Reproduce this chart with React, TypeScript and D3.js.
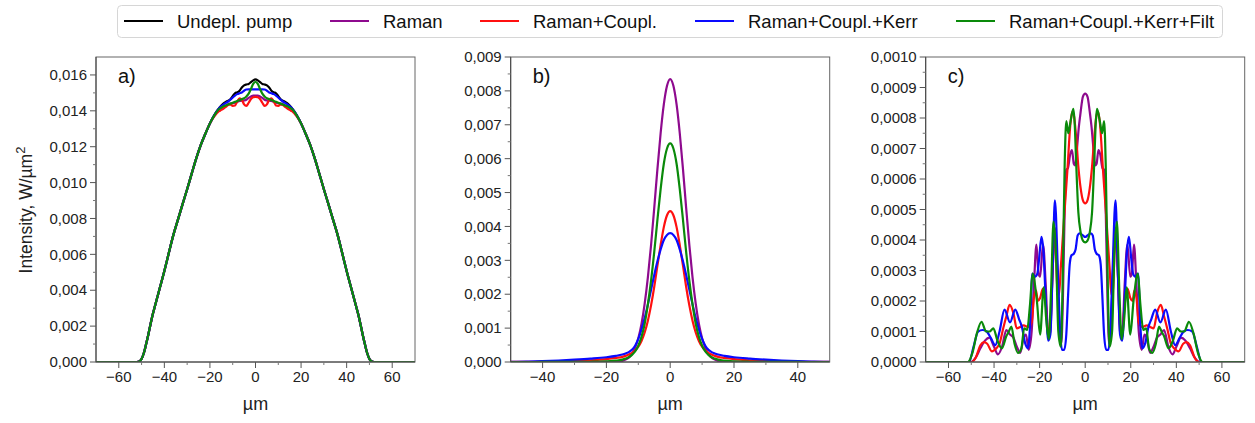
import React from 'react';
import * as d3 from 'd3';

// ---------- legend / series ----------
const seriesNames = ['Undepl. pump', 'Raman', 'Raman+Coupl.', 'Raman+Coupl.+Kerr', 'Raman+Coupl.+Kerr+Filt'];
const seriesColors = ['#000000', '#8e0a8e', '#ff1010', '#0a0aff', '#0a8a0a'];

// ---------- panel a) pump profile ----------
const xA = [-70, -52, -51, -50, -49, -48, -47, -46, -45, -44, -42, -40, -38, -36, -34, -32, -30, -28, -26, -24, -22, -20, -18,
  -16, -15, -14, -13, -12, -11, -10, -9, -8, -7, -6, -5, -4, -3, -2, -1, 0, 1, 2, 3, 4, 5, 6, 7, 8, 9, 10, 11, 12, 13, 14, 15, 16,
  18, 20, 22, 24, 26, 28, 30, 32, 34, 36, 38, 40, 42, 44, 45, 46, 47, 48, 49, 50, 51, 52, 70];

const aUndepl = [0, 0, 0.00003, 0.00017, 0.0005, 0.001, 0.00155, 0.00215, 0.0027, 0.00318, 0.00412, 0.00507, 0.0061, 0.0071, 0.00795, 0.0088, 0.00963, 0.0105, 0.01135, 0.0121, 0.01272, 0.0133, 0.01378,
  0.01415, 0.0143, 0.01442, 0.0145, 0.01456, 0.01465, 0.01482, 0.01498, 0.01503, 0.01512, 0.0153, 0.01542, 0.01547, 0.0155, 0.0156, 0.0157, 0.01575,
  0.0157, 0.0156, 0.0155, 0.01547, 0.01542, 0.0153, 0.01512, 0.01503, 0.01498, 0.01482, 0.01465, 0.01456, 0.0145, 0.01442, 0.0143, 0.01415,
  0.01378, 0.0133, 0.01272, 0.0121, 0.01135, 0.0105, 0.00963, 0.0088, 0.00795, 0.0071, 0.0061, 0.00507, 0.00412, 0.00318, 0.0027, 0.00215, 0.00155, 0.001, 0.0005, 0.00017, 0.00003, 0, 0];

const aRaman = [0, 0, 0.00003, 0.00017, 0.0005, 0.001, 0.00155, 0.00215, 0.0027, 0.00318, 0.00412, 0.00507, 0.0061, 0.0071, 0.00795, 0.0088, 0.00963, 0.0105, 0.01135, 0.0121, 0.01272, 0.0133, 0.01375,
  0.01408, 0.01418, 0.01425, 0.0143, 0.01436, 0.0144, 0.01442, 0.01445, 0.0145, 0.01455, 0.01456, 0.01458, 0.01462, 0.01472, 0.0148, 0.01485, 0.01485,
  0.01485, 0.0148, 0.01472, 0.01462, 0.01458, 0.01456, 0.01455, 0.0145, 0.01445, 0.01442, 0.0144, 0.01436, 0.0143, 0.01425, 0.01418, 0.01408,
  0.01375, 0.0133, 0.01272, 0.0121, 0.01135, 0.0105, 0.00963, 0.0088, 0.00795, 0.0071, 0.0061, 0.00507, 0.00412, 0.00318, 0.0027, 0.00215, 0.00155, 0.001, 0.0005, 0.00017, 0.00003, 0, 0];

const aCoupl = [0, 0, 0.00003, 0.00017, 0.0005, 0.001, 0.00155, 0.00215, 0.0027, 0.00318, 0.00412, 0.00507, 0.0061, 0.0071, 0.00795, 0.0088, 0.00963, 0.0105, 0.01135, 0.0121, 0.01272, 0.0133, 0.0137,
  0.01398, 0.01405, 0.01413, 0.01422, 0.01432, 0.01436, 0.01428, 0.0143, 0.01452, 0.0147, 0.01462, 0.01436, 0.01428, 0.01445, 0.01466, 0.01476, 0.01478,
  0.01476, 0.01466, 0.01445, 0.01428, 0.01436, 0.01462, 0.0147, 0.01452, 0.0143, 0.01428, 0.01436, 0.01432, 0.01422, 0.01413, 0.01405, 0.01398,
  0.0137, 0.0133, 0.01272, 0.0121, 0.01135, 0.0105, 0.00963, 0.0088, 0.00795, 0.0071, 0.0061, 0.00507, 0.00412, 0.00318, 0.0027, 0.00215, 0.00155, 0.001, 0.0005, 0.00017, 0.00003, 0, 0];

const aKerr = [0, 0, 0.00003, 0.00017, 0.0005, 0.001, 0.00155, 0.00215, 0.0027, 0.00318, 0.00412, 0.00507, 0.0061, 0.0071, 0.00795, 0.0088, 0.00963, 0.0105, 0.01135, 0.0121, 0.01272, 0.0133, 0.01378,
  0.01414, 0.01426, 0.01436, 0.01444, 0.01452, 0.01462, 0.01474, 0.01485, 0.01493, 0.01498, 0.01502, 0.01512, 0.01519, 0.0152, 0.0152, 0.0152, 0.0152,
  0.0152, 0.0152, 0.0152, 0.01519, 0.01512, 0.01502, 0.01498, 0.01493, 0.01485, 0.01474, 0.01462, 0.01452, 0.01444, 0.01436, 0.01426, 0.01414,
  0.01378, 0.0133, 0.01272, 0.0121, 0.01135, 0.0105, 0.00963, 0.0088, 0.00795, 0.0071, 0.0061, 0.00507, 0.00412, 0.00318, 0.0027, 0.00215, 0.00155, 0.001, 0.0005, 0.00017, 0.00003, 0, 0];

const aFilt = [0, 0, 0.00003, 0.00017, 0.0005, 0.001, 0.00155, 0.00215, 0.0027, 0.00318, 0.00412, 0.00507, 0.0061, 0.0071, 0.00795, 0.0088, 0.00963, 0.0105, 0.01135, 0.0121, 0.01272, 0.0133, 0.01376,
  0.0141, 0.01418, 0.01425, 0.0143, 0.01435, 0.0144, 0.01445, 0.0145, 0.01455, 0.0146, 0.01465, 0.0147, 0.0148, 0.01496, 0.01522, 0.0155, 0.01562,
  0.0155, 0.01522, 0.01496, 0.0148, 0.0147, 0.01465, 0.0146, 0.01455, 0.0145, 0.01445, 0.0144, 0.01435, 0.0143, 0.01425, 0.01418, 0.0141,
  0.01376, 0.0133, 0.01272, 0.0121, 0.01135, 0.0105, 0.00963, 0.0088, 0.00795, 0.0071, 0.0061, 0.00507, 0.00412, 0.00318, 0.0027, 0.00215, 0.00155, 0.001, 0.0005, 0.00017, 0.00003, 0, 0];

// ---------- panel b) Stokes, central component ----------
const xB = [-50, -45, -40, -35, -30, -25, -20, -17, -15, -14, -13, -12, -11, -10, -9, -8, -7, -6, -5, -4, -3, -2, -1, 0,
  1, 2, 3, 4, 5, 6, 7, 8, 9, 10, 11, 12, 13, 14, 15, 17, 20, 25, 30, 35, 40, 45, 50];

const bRaman = [0, 0, 0, 0, 0, 0.000001, 0.000004, 0.000012, 0.000035, 0.00007, 0.00013, 0.00024, 0.00042, 0.0007, 0.00112, 0.00172, 0.0025, 0.00345, 0.00455, 0.0057, 0.00675, 0.0076, 0.00815, 0.00835,
  0.00815, 0.0076, 0.00675, 0.0057, 0.00455, 0.00345, 0.0025, 0.00172, 0.00112, 0.0007, 0.00042, 0.00024, 0.00013, 0.00007, 0.000035, 0.000012, 0.000004, 0.000001, 0, 0, 0, 0, 0];

const bCoupl = [0.000002, 0.000005, 0.00001, 0.000018, 0.00003, 0.00005, 0.000085, 0.00012, 0.00015, 0.00018, 0.00022, 0.00027, 0.00034, 0.00045, 0.00062, 0.00087, 0.00122, 0.00167, 0.00222, 0.00285, 0.00345, 0.00398, 0.00433, 0.00445,
  0.00433, 0.00398, 0.00345, 0.00285, 0.00222, 0.00167, 0.00122, 0.00087, 0.00062, 0.00045, 0.00034, 0.00027, 0.00022, 0.00018, 0.00015, 0.00012, 0.000085, 0.00005, 0.00003, 0.000018, 0.00001, 0.000005, 0.000002];

const bKerr = [0.000005, 0.000012, 0.000025, 0.000045, 0.00007, 0.0001, 0.00014, 0.00018, 0.00022, 0.00025, 0.00029, 0.00036, 0.00048, 0.00068, 0.00096, 0.0013, 0.0017, 0.00213, 0.00257, 0.00297, 0.00332, 0.0036, 0.00375, 0.0038,
  0.00375, 0.0036, 0.00332, 0.00297, 0.00257, 0.00213, 0.0017, 0.0013, 0.00096, 0.00068, 0.00048, 0.00036, 0.00029, 0.00025, 0.00022, 0.00018, 0.00014, 0.0001, 0.00007, 0.000045, 0.000025, 0.000012, 0.000005];

const bFilt = [0, 0.0000005, 0.000001, 0.000002, 0.000004, 0.000008, 0.00002, 0.00004, 0.00007, 0.0001, 0.00014, 0.00021, 0.00031, 0.00048, 0.00074, 0.00113, 0.0017, 0.0024, 0.00325, 0.0042, 0.0051, 0.00585, 0.0063, 0.00645,
  0.0063, 0.00585, 0.0051, 0.0042, 0.00325, 0.0024, 0.0017, 0.00113, 0.00074, 0.00048, 0.00031, 0.00021, 0.00014, 0.0001, 0.00007, 0.00004, 0.00002, 0.000008, 0.000004, 0.000002, 0.000001, 0.0000005, 0];

// ---------- panel c) Stokes, higher components ([x, intensity]) ----------
const cRaman: [number, number][] = [
  [-70, 0], [-50, 0], [-48, 0.15e-4], [-46, 0.45e-4], [-44, 0.7e-4], [-42, 0.8e-4], [-40, 0.5e-4], [-38.3, 0.25e-4], [-36.5, 0.5e-4], [-34.6, 1.05e-4],
  [-33, 0.9e-4], [-31.5, 0.8e-4], [-30, 0.5e-4], [-28.5, 0.3e-4], [-27, 0.8e-4], [-26, 0.9e-4], [-24.8, 0.4e-4], [-23.5, 1.0e-4], [-22.5, 2.5e-4],
  [-21.4, 3.85e-4], [-20.5, 2.9e-4], [-19.8, 2.8e-4], [-18.5, 3.85e-4], [-17.3, 2.5e-4], [-16.2, 0.8e-4], [-15.3, 1.0e-4], [-14.3, 3.0e-4],
  [-13.3, 4.4e-4], [-12.2, 3.0e-4], [-11.2, 1.0e-4], [-10.5, 0.6e-4], [-9.8, 2.0e-4], [-9, 5.0e-4], [-8.3, 6.3e-4], [-7.6, 6.35e-4], [-6.6, 6.8e-4],
  [-5.8, 6.95e-4], [-5, 6.5e-4], [-4.4, 6.45e-4], [-3.6, 7.0e-4], [-2.8, 7.7e-4], [-2, 8.2e-4], [-1, 8.7e-4], [0, 8.8e-4],
  [1, 8.7e-4], [2, 8.2e-4], [2.8, 7.7e-4], [3.6, 7.0e-4], [4.4, 6.45e-4], [5, 6.5e-4], [5.8, 6.95e-4], [6.6, 6.8e-4], [7.6, 6.35e-4], [8.3, 6.3e-4],
  [9, 5.0e-4], [9.8, 2.0e-4], [10.5, 0.6e-4], [11.2, 1.0e-4], [12.2, 3.0e-4], [13.3, 4.4e-4], [14.3, 3.0e-4], [15.3, 1.0e-4], [16.2, 0.8e-4],
  [17.3, 2.5e-4], [18.5, 3.85e-4], [19.8, 2.8e-4], [20.5, 2.9e-4], [21.4, 3.85e-4], [22.5, 2.5e-4], [23.5, 1.0e-4], [24.8, 0.4e-4], [26, 0.9e-4],
  [27, 0.8e-4], [28.5, 0.3e-4], [30, 0.5e-4], [31.5, 0.8e-4], [33, 0.9e-4], [34.6, 1.05e-4], [36.5, 0.5e-4], [38.3, 0.25e-4], [40, 0.5e-4],
  [42, 0.8e-4], [44, 0.7e-4], [46, 0.45e-4], [48, 0.15e-4], [50, 0], [70, 0]];

const cCoupl: [number, number][] = [
  [-70, 0], [-50, 0], [-48, 0.15e-4], [-46, 0.55e-4], [-44.5, 0.65e-4], [-43, 0.6e-4], [-41, 0.35e-4], [-39, 0.45e-4], [-37.6, 0.6e-4], [-36, 1.1e-4],
  [-34.6, 1.5e-4], [-33.2, 1.87e-4], [-31.5, 1.6e-4], [-30, 1.1e-4], [-28.5, 1.15e-4], [-27, 1.2e-4], [-25, 1.15e-4], [-23.5, 1.3e-4], [-22.5, 2.1e-4],
  [-21.6, 2.35e-4], [-20.8, 2.0e-4], [-19.8, 2.1e-4], [-18.6, 2.4e-4], [-17.3, 1.9e-4], [-16.2, 1.0e-4], [-15.3, 1.2e-4], [-14.3, 3.0e-4],
  [-13.3, 4.3e-4], [-12.2, 2.4e-4], [-11.5, 2.2e-4], [-10.7, 3.1e-4], [-9.2, 4.8e-4], [-7.8, 6.3e-4], [-6.5, 7.8e-4], [-5.7, 8.2e-4], [-5, 8.1e-4],
  [-4, 7.4e-4], [-3, 6.4e-4], [-2, 5.7e-4], [-1, 5.3e-4], [0, 5.2e-4],
  [1, 5.3e-4], [2, 5.7e-4], [3, 6.4e-4], [4, 7.4e-4], [5, 8.1e-4], [5.7, 8.2e-4], [6.5, 7.8e-4], [7.8, 6.3e-4], [9.2, 4.8e-4], [10.7, 3.1e-4],
  [11.5, 2.2e-4], [12.2, 2.4e-4], [13.3, 4.3e-4], [14.3, 3.0e-4], [15.3, 1.2e-4], [16.2, 1.0e-4], [17.3, 1.9e-4], [18.6, 2.4e-4], [19.8, 2.1e-4],
  [20.8, 2.0e-4], [21.6, 2.35e-4], [22.5, 2.1e-4], [23.5, 1.3e-4], [25, 1.15e-4], [27, 1.2e-4], [28.5, 1.15e-4], [30, 1.1e-4], [31.5, 1.6e-4],
  [33.2, 1.87e-4], [34.6, 1.5e-4], [36, 1.1e-4], [37.6, 0.6e-4], [39, 0.45e-4], [41, 0.35e-4], [43, 0.6e-4], [44.5, 0.65e-4], [46, 0.55e-4],
  [48, 0.15e-4], [50, 0], [70, 0]];

const cKerr: [number, number][] = [
  [-70, 0], [-51, 0], [-49, 0.5e-4], [-47, 1.0e-4], [-45, 1.05e-4], [-43.2, 1.0e-4], [-41.5, 0.8e-4], [-39.5, 0.55e-4], [-37.6, 1.0e-4],
  [-35.4, 1.72e-4], [-33, 1.3e-4], [-30.7, 1.72e-4], [-29, 1.4e-4], [-27.8, 1.16e-4], [-26.3, 0.6e-4], [-25.1, 0.45e-4], [-24.2, 1.2e-4],
  [-23.2, 2.9e-4], [-22, 2.8e-4], [-21, 2.9e-4], [-20.2, 3.4e-4], [-19.2, 4.1e-4], [-18.3, 3.6e-4], [-17.3, 2.0e-4], [-16.2, 0.7e-4],
  [-15.3, 0.9e-4], [-14.3, 3.0e-4], [-13.3, 5.3e-4], [-12, 3.0e-4], [-11, 1.0e-4], [-10.2, 0.4e-4], [-9.2, 0.4e-4], [-8.3, 0.9e-4], [-7.5, 2.2e-4],
  [-6.8, 3.2e-4], [-6, 3.5e-4], [-5, 3.55e-4], [-4.2, 3.7e-4], [-3.3, 4.15e-4], [-2.5, 4.22e-4], [-1, 4.15e-4], [0, 4.1e-4],
  [1, 4.15e-4], [2.5, 4.22e-4], [3.3, 4.15e-4], [4.2, 3.7e-4], [5, 3.55e-4], [6, 3.5e-4], [6.8, 3.2e-4], [7.5, 2.2e-4], [8.3, 0.9e-4],
  [9.2, 0.4e-4], [10.2, 0.4e-4], [11, 1.0e-4], [12, 3.0e-4], [13.3, 5.3e-4], [14.3, 3.0e-4], [15.3, 0.9e-4], [16.2, 0.7e-4], [17.3, 2.0e-4],
  [18.3, 3.6e-4], [19.2, 4.1e-4], [20.2, 3.4e-4], [21, 2.9e-4], [22, 2.8e-4], [23.2, 2.9e-4], [24.2, 1.2e-4], [25.1, 0.45e-4], [26.3, 0.6e-4],
  [27.8, 1.16e-4], [29, 1.4e-4], [30.7, 1.72e-4], [33, 1.3e-4], [35.4, 1.72e-4], [37.6, 1.0e-4], [39.5, 0.55e-4], [41.5, 0.8e-4],
  [43.2, 1.0e-4], [45, 1.05e-4], [47, 1.0e-4], [49, 0.5e-4], [51, 0], [70, 0]];

const cFilt: [number, number][] = [
  [-70, 0], [-51.5, 0], [-49.5, 0.3e-4], [-47.5, 0.95e-4], [-45.5, 1.32e-4], [-43.5, 1.0e-4], [-42, 1.0e-4], [-40.3, 1.1e-4], [-38.5, 0.7e-4],
  [-36.6, 0.45e-4], [-34.6, 0.85e-4], [-33.5, 1.0e-4], [-32.4, 1.16e-4], [-31, 0.6e-4], [-29.5, 0.3e-4], [-28, 0.45e-4], [-26.8, 1.1e-4],
  [-25.5, 1.05e-4], [-24.2, 1.9e-4], [-23.1, 2.9e-4], [-21.2, 2.0e-4], [-19.8, 0.9e-4], [-18.2, 2.45e-4], [-17.1, 1.4e-4], [-16, 0.75e-4],
  [-15, 2.3e-4], [-13.9, 4.6e-4], [-12.8, 3.5e-4], [-11.8, 1.0e-4], [-10.7, 0.5e-4], [-9.8, 3.0e-4], [-9, 6.5e-4], [-8.3, 7.9e-4], [-7.4, 7.5e-4],
  [-6.4, 7.9e-4], [-5.2, 8.3e-4], [-4.6, 7.8e-4], [-4, 6.6e-4], [-3, 4.9e-4], [-2, 4.25e-4], [-1, 3.98e-4], [0, 3.92e-4],
  [1, 3.98e-4], [2, 4.25e-4], [3, 4.9e-4], [4, 6.6e-4], [4.6, 7.8e-4], [5.2, 8.3e-4], [6.4, 7.9e-4], [7.4, 7.5e-4], [8.3, 7.9e-4], [9, 6.5e-4],
  [9.8, 3.0e-4], [10.7, 0.5e-4], [11.8, 1.0e-4], [12.8, 3.5e-4], [13.9, 4.6e-4], [15, 2.3e-4], [16, 0.75e-4], [17.1, 1.4e-4], [18.2, 2.45e-4],
  [19.8, 0.9e-4], [21.2, 2.0e-4], [23.1, 2.9e-4], [24.2, 1.9e-4], [25.5, 1.05e-4], [26.8, 1.1e-4], [28, 0.45e-4], [29.5, 0.3e-4], [31, 0.6e-4],
  [32.4, 1.16e-4], [33.5, 1.0e-4], [34.6, 0.85e-4], [36.6, 0.45e-4], [38.5, 0.7e-4], [40.3, 1.1e-4], [42, 1.0e-4], [43.5, 1.0e-4],
  [45.5, 1.32e-4], [47.5, 0.95e-4], [49.5, 0.3e-4], [51.5, 0], [70, 0]];

// ---------- ticks ----------
const xTicksWide = [-60, -40, -20, 0, 20, 40, 60];
const xMinorWide = [-50, -30, -10, 10, 30, 50];
const xTicksB = [-40, -20, 0, 20, 40];
const xMinorB = [-30, -10, 10, 30];
const yTicksA = [0, 0.002, 0.004, 0.006, 0.008, 0.010, 0.012, 0.014, 0.016];
const yMinorA = [0.001, 0.003, 0.005, 0.007, 0.009, 0.011, 0.013, 0.015];
const yTicksB = [0, 0.001, 0.002, 0.003, 0.004, 0.005, 0.006, 0.007, 0.008, 0.009];
const yMinorB = [0.0005, 0.0015, 0.0025, 0.0035, 0.0045, 0.0055, 0.0065, 0.0075, 0.0085];
const yTicksC = [0, 0.0001, 0.0002, 0.0003, 0.0004, 0.0005, 0.0006, 0.0007, 0.0008, 0.0009, 0.0010];
const yMinorC = [0.00005, 0.00015, 0.00025, 0.00035, 0.00045, 0.00055, 0.00065, 0.00075, 0.00085, 0.00095];

// ---------- layout ----------
const W = 1255;
const H = 423;
const TOP = 57;
const BOTTOM = 362;
const PW = 319;
const FONT = '"Liberation Sans", Arial, Helvetica, sans-serif';
const legendItemX = [124, 330, 480, 695, 956];

type Panel = {
  id: string; left: number; xDomain: [number, number]; yMax: number;
  xTicks: number[]; xMinor: number[]; yTicks: number[]; yMinor: number[]; digits: number; tag: string;
  lines: { color: string; pts: [number, number][] }[];
};

const panels: Panel[] = [
  {
    id: 'a', left: 96, xDomain: [-70, 70], yMax: 0.017, xTicks: xTicksWide, xMinor: xMinorWide, yTicks: yTicksA, yMinor: yMinorA, digits: 3, tag: 'a)',
    lines: [aUndepl, aRaman, aCoupl, aKerr, aFilt].map((ys, i) => ({ color: seriesColors[i], pts: d3.zip(xA, ys) as [number, number][] })),
  },
  {
    id: 'b', left: 510.7, xDomain: [-50, 50], yMax: 0.009, xTicks: xTicksB, xMinor: xMinorB, yTicks: yTicksB, yMinor: yMinorB, digits: 3, tag: 'b)',
    lines: [bRaman, bCoupl, bKerr, bFilt].map((ys, i) => ({ color: seriesColors[i + 1], pts: d3.zip(xB, ys) as [number, number][] })),
  },
  {
    id: 'c', left: 925.7, xDomain: [-70, 70], yMax: 0.001, xTicks: xTicksWide, xMinor: xMinorWide, yTicks: yTicksC, yMinor: yMinorC, digits: 4, tag: 'c)',
    lines: [cRaman, cCoupl, cKerr, cFilt].map((pts, i) => ({ color: seriesColors[i + 1], pts })),
  },
];

const fmtY = (v: number, digits: number) => v.toFixed(digits).replace('.', ',');
const fmtX = (v: number) => (v < 0 ? '\u2212' : '') + Math.abs(v);

function PanelView({ p }: { p: Panel }) {
  const x = d3.scaleLinear().domain(p.xDomain).range([p.left, p.left + PW]);
  const y = d3.scaleLinear().domain([0, p.yMax]).range([BOTTOM, TOP]);
  const line = d3.line<[number, number]>().x(d => x(d[0])).y(d => y(d[1])).curve(d3.curveMonotoneX);
  const cx = p.left + PW / 2;
  return (
    <g>
      <defs>
        <clipPath id={`clip-${p.id}`}>
          <rect x={p.left} y={TOP} width={PW} height={BOTTOM - TOP} />
        </clipPath>
      </defs>
      <g clipPath={`url(#clip-${p.id})`}>
        {p.lines.map((l, i) => (
          <path key={i} d={line(l.pts) || ''} fill="none" stroke={l.color} strokeWidth={2.2} strokeLinejoin="round" />
        ))}
      </g>
      <rect x={p.left} y={TOP} width={PW} height={BOTTOM - TOP} fill="none" stroke="#666" strokeWidth={1} />
      <line x1={p.left} x2={p.left} y1={TOP} y2={BOTTOM} stroke="#444" strokeWidth={1} />
      <line x1={p.left} x2={p.left + PW} y1={BOTTOM} y2={BOTTOM} stroke="#444" strokeWidth={1} />
      {p.yTicks.map(t => (
        <g key={`yt${t}`}>
          <line x1={p.left - 6} x2={p.left} y1={y(t)} y2={y(t)} stroke="#555" />
          <text x={p.left - 9} y={y(t)} dy="0.35em" textAnchor="end" fontSize={15} fill="#222" fontFamily={FONT}>{fmtY(t, p.digits)}</text>
        </g>
      ))}
      {p.yMinor.map(t => (
        <line key={`ym${t}`} x1={p.left - 3} x2={p.left} y1={y(t)} y2={y(t)} stroke="#777" />
      ))}
      {p.xTicks.map(t => (
        <g key={`xt${t}`}>
          <line x1={x(t)} x2={x(t)} y1={BOTTOM} y2={BOTTOM + 6} stroke="#555" />
          <text x={x(t)} y={382} textAnchor="middle" fontSize={15} fill="#222" fontFamily={FONT}>{fmtX(t)}</text>
        </g>
      ))}
      {p.xMinor.map(t => (
        <line key={`xm${t}`} x1={x(t)} x2={x(t)} y1={BOTTOM} y2={BOTTOM + 3} stroke="#777" />
      ))}
      <text x={cx} y={410} textAnchor="middle" fontSize={18} fill="#222" fontFamily={FONT}>µm</text>
      <text x={p.left + 22} y={83} fontSize={20} fill="#111" fontFamily={FONT}>{p.tag}</text>
    </g>
  );
}

export default function App() {
  return (
    <svg width={W} height={H} viewBox={`0 0 ${W} ${H}`} style={{ position: 'absolute', left: 0, top: 0, background: '#fff' }}>
      <rect x={0} y={0} width={W} height={H} fill="#fff" />
      <rect x={117.5} y={5.5} width={1105} height={32} rx={4} fill="#fff" stroke="#d6d6d6" strokeWidth={1} />
      {seriesNames.map((name, i) => (
        <g key={name}>
          <line x1={legendItemX[i]} x2={legendItemX[i] + 39} y1={21} y2={21} stroke={seriesColors[i]} strokeWidth={2.2} />
          <text x={legendItemX[i] + 53} y={27.5} fontSize={18.5} fill="#111" fontFamily={FONT}>{name}</text>
        </g>
      ))}
      {panels.map(p => <PanelView key={p.id} p={p} />)}
      <text transform={`translate(32,210) rotate(-90)`} textAnchor="middle" fontSize={17.5} fill="#222" fontFamily={FONT}>
        Intensity, W/µm<tspan dy={-7} fontSize={13}>2</tspan>
      </text>
    </svg>
  );
}
